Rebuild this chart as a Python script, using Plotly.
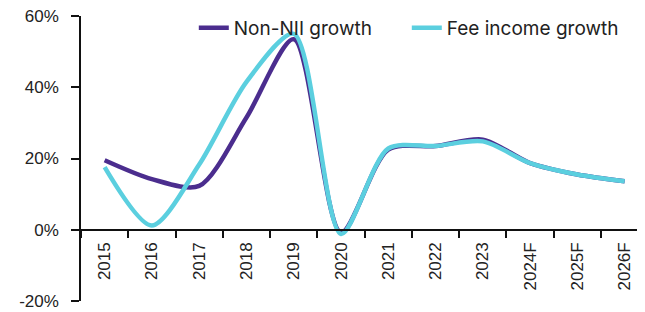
import plotly.graph_objects as go

categories = ["2015", "2016", "2017", "2018", "2019", "2020", "2021", "2022", "2023", "2024F", "2025F", "2026F"]
non_nii_growth = [19.5, 14.2, 12.3, 31.5, 53.5, -0.8, 22.5, 23.5, 25.3, 18.7, 15.5, 13.6]
fee_income_growth = [17.6, 1.2, 18.3, 41.5, 55.0, -1.2, 22.8, 23.5, 24.8, 18.7, 15.5, 13.6]
y_ticks = [-20, 0, 20, 40, 60]
y_tick_labels = ["-20%", "0%", "20%", "40%", "60%"]

PURPLE = "#4B2D8E"
CYAN = "#5BCFDF"

fig = go.Figure()
fig.add_trace(go.Scatter(x=categories, y=non_nii_growth, name="Non-NII growth", mode="lines",
                         line=dict(color=PURPLE, width=4.5, shape="spline", smoothing=0.8)))
fig.add_trace(go.Scatter(x=categories, y=fee_income_growth, name="Fee income growth", mode="lines",
                         line=dict(color=CYAN, width=4.5, shape="spline", smoothing=0.8)))

tick_font = dict(family="Liberation Sans, Arial, sans-serif", size=17, color="#222222")

# the page body has an 8px default margin, so the figure is sized/offset to compensate
fig.update_layout(
    width=637, height=304,
    margin=dict(l=73, r=0, t=8, b=11, autoexpand=False),
    plot_bgcolor="white", paper_bgcolor="white",
    showlegend=True,
    legend=dict(orientation="h", x=0.2, xanchor="left", y=1.025, yanchor="top",
                font=dict(family="Inter, sans-serif", size=19, color="#222222"),
                bgcolor="rgba(0,0,0,0)", itemwidth=30, tracegroupgap=0,
                entrywidth=168, entrywidthmode="pixels"),
    xaxis=dict(type="category", range=[-0.5, 11.43], anchor="free", position=0.25,
               showline=True, linecolor="#111111", linewidth=1.5,
               ticks="outside", ticklen=7, tickwidth=1.5, tickcolor="#111111",
               tickson="boundaries", tickangle=-90, tickfont=tick_font,
               showgrid=False, zeroline=False, ticklabelstandoff=5, automargin=False,
               ticklabeloverflow="allow"),
    yaxis=dict(range=[-20, 60], tickvals=y_ticks, ticktext=y_tick_labels,
               showline=True, linecolor="#111111", linewidth=1.5,
               ticks="outside", ticklen=8, tickwidth=1.5, tickcolor="#111111",
               tickfont=tick_font, showgrid=False, zeroline=False, ticklabelstandoff=9,
               automargin=False, ticklabeloverflow="allow"),
)

fig.write_html("out.html")
